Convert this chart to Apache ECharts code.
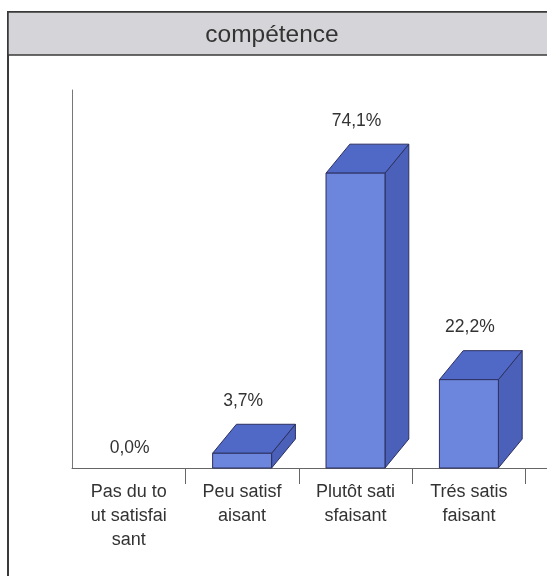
<!DOCTYPE html>
<html>
<head>
<meta charset="utf-8">
<script src="https://cdn.jsdelivr.net/npm/echarts@6/dist/echarts.min.js"></script>
<style>
  html, body { margin: 0; padding: 0; background: #ffffff; }
  #chart { width: 547px; height: 576px; }
</style>
</head>
<body>
<div id="chart"></div>
<script>
// Satisfaction levels (the last slot is an unused column at the right edge)
const categories = [
  'Pas du to\nut satisfai\nsant',
  'Peu satisf\naisant',
  'Plutôt sati\nsfaisant',
  'Trés satis\nfaisant',
  ''
];
// Share of answers, in percent
const percentages = [0.0, 3.7, 74.1, 22.2, null];
const chartTitle = 'compétence';

const FONT = '"Liberation Sans", Arial, sans-serif';
const TEXT = '#333333';
const FRONT = '#6d86dd';
const TOP = '#5068c6';
const SIDE = '#4b60b8';
const EDGE = '#2c3060';

function fmt(v) {
  return v.toFixed(1).replace('.', ',') + '%';
}

// Draws one 3D-looking column: front face, top face and right side face
function renderBar(params, api) {
  const idx = api.value(0);
  const val = api.value(1);
  if (val === null || isNaN(val)) return null;
  const band = api.size([1, 0])[0];
  const base = api.coord([idx, 0]);
  const top = api.coord([idx, val]);
  const w = band * 0.52;
  const dx = band * 0.21;
  const dy = 29;
  const x0 = base[0] - w / 2;
  const x1 = base[0] + w / 2;
  const yb = base[1];
  const yt = top[1];
  const children = [];
  if (val > 0) {
    children.push({
      type: 'polygon',
      shape: { points: [[x1, yt], [x1 + dx, yt - dy], [x1 + dx, yb - dy], [x1, yb]] },
      style: { fill: SIDE, stroke: EDGE, lineWidth: 1 }
    });
    children.push({
      type: 'polygon',
      shape: { points: [[x0, yt], [x0 + dx, yt - dy], [x1 + dx, yt - dy], [x1, yt]] },
      style: { fill: TOP, stroke: EDGE, lineWidth: 1 }
    });
    children.push({
      type: 'rect',
      shape: { x: x0, y: yt, width: w, height: yb - yt },
      style: { fill: FRONT, stroke: EDGE, lineWidth: 1 }
    });
  }
  const labelY = val > 0 ? yt - 52 : yb - 20;
  children.push({
    type: 'text',
    style: {
      text: fmt(val),
      x: base[0] + 1,
      y: labelY,
      align: 'center',
      verticalAlign: 'middle',
      fill: TEXT,
      font: '17.5px ' + FONT
    }
  });
  return { type: 'group', children: children };
}

const chart = echarts.init(document.getElementById('chart'), null, { renderer: 'canvas' });

chart.setOption({
  backgroundColor: '#ffffff',
  animation: false,
  graphic: [
    {
      type: 'rect',
      shape: { x: 8, y: 12, width: 620, height: 620 },
      style: { fill: 'none', stroke: '#3a3a3a', lineWidth: 2 },
      z: 0
    },
    {
      type: 'rect',
      shape: { x: 8, y: 12, width: 620, height: 43 },
      style: { fill: '#d5d5d9', stroke: '#3a3a3a', lineWidth: 1.5 },
      z: 0
    }
  ],
  title: {
    text: chartTitle,
    left: 267,
    top: 18,
    textAlign: 'center',
    textStyle: { fontFamily: FONT, fontSize: 24.5, fontWeight: 'normal', color: TEXT }
  },
  grid: {
    left: 72,
    width: 567,
    top: 90,
    bottom: 108,
    containLabel: false,
    outerBoundsMode: 'none'
  },
  xAxis: {
    type: 'category',
    data: categories,
    boundaryGap: true,
    axisLine: { show: true, lineStyle: { color: '#666666', width: 1 } },
    axisTick: {
      show: true,
      length: 16,
      interval: function (index) { return index > 0; },
      lineStyle: { color: '#666666' }
    },
    axisLabel: {
      interval: 0,
      margin: 12,
      color: TEXT,
      fontFamily: FONT,
      fontSize: 18,
      lineHeight: 24
    }
  },
  yAxis: {
    type: 'value',
    min: 0,
    max: 95,
    axisLine: { show: true, lineStyle: { color: '#777777', width: 1 } },
    axisTick: { show: false },
    axisLabel: { show: false },
    splitLine: { show: false }
  },
  series: [
    {
      type: 'custom',
      renderItem: renderBar,
      encode: { x: 0, y: 1 },
      data: percentages.map((v, i) => [i, v]),
      clip: false
    }
  ]
});
</script>
</body>
</html>
